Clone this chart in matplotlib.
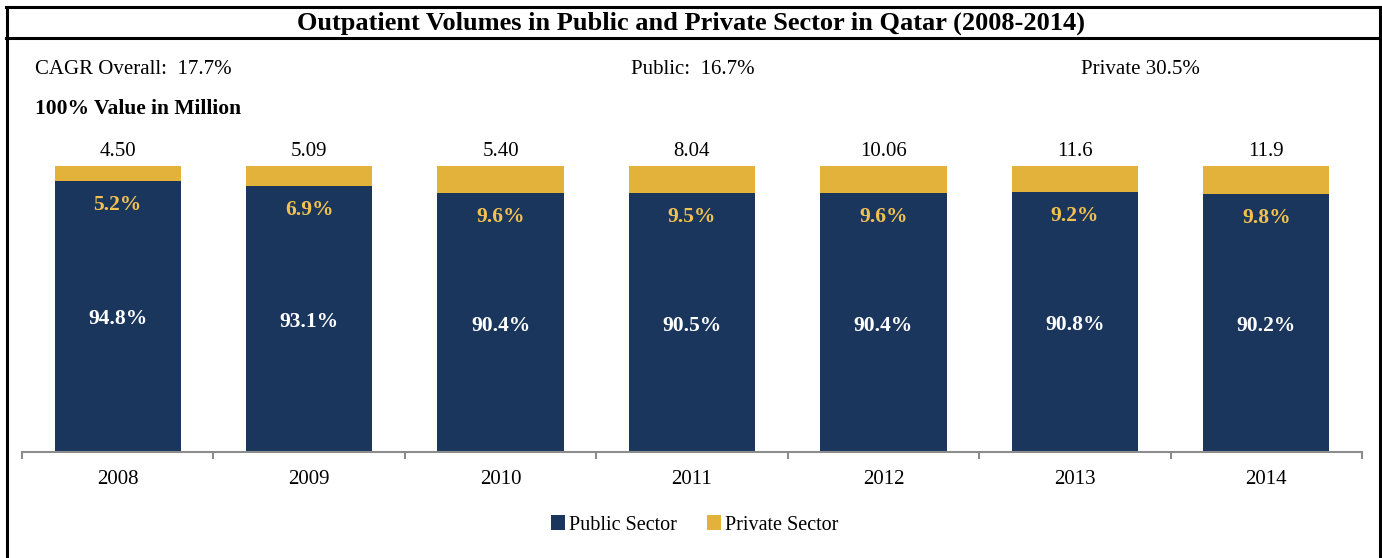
import matplotlib
matplotlib.use("Agg")
import matplotlib.pyplot as plt
from matplotlib.lines import Line2D
from matplotlib.patches import Patch
import numpy as np

years = ["2008", "2009", "2010", "2011", "2012", "2013", "2014"]
public_pct = [94.8, 93.1, 90.4, 90.5, 90.4, 90.8, 90.2]
private_pct = [5.2, 6.9, 9.6, 9.5, 9.6, 9.2, 9.8]
totals = ["4.50", "5.09", "5.40", "8.04", "10.06", "11.6", "11.9"]

title = "Outpatient Volumes in Public and Private Sector in Qatar (2008-2014)"
cagr_overall = "CAGR Overall:  17.7%"
cagr_public = "Public:  16.7%"
cagr_private = "Private 30.5%"
subtitle = "100% Value in Million"

NAVY = "#1A365D"
GOLD = "#E2B23A"
GOLD_TXT = "#F3C14F"
FONT = "Liberation Serif"

plt.rcParams["font.family"] = [FONT, "DejaVu Serif"]

W, H = 1382, 558
fig = plt.figure(figsize=(W / 100, H / 100), dpi=100)

def fx(px):
    return px / W

def fy(py):
    return 1 - py / H

ax = fig.add_axes([fx(22), fy(452), fx(1362) - fx(22), fy(166) - fy(452)])
x = np.arange(len(years))
bw = 0.66
ax.bar(x, public_pct, width=bw, color=NAVY, label="Public Sector", zorder=2)
ax.bar(x, private_pct, width=bw, bottom=public_pct, color=GOLD, label="Private Sector", zorder=2)

ax.set_xlim(-0.5, len(years) - 0.5)
ax.set_ylim(0, 100)

for i in range(len(years)):
    ax.annotate(f"{public_pct[i]:.1f}%", xy=(x[i], public_pct[i] / 2), xytext=(0, -3),
                textcoords="offset pixels", ha="center", va="center",
                color="white", fontsize=15.5, fontweight="bold")
    ax.annotate(f"{private_pct[i]:.1f}%", xy=(x[i], public_pct[i]), xytext=(0, -24),
                textcoords="offset pixels", ha="center", va="center",
                color=GOLD_TXT, fontsize=15.5, fontweight="bold")
    ax.annotate(totals[i], xy=(x[i], 100), xytext=(0, 5), textcoords="offset pixels",
                ha="center", va="bottom", color="black", fontsize=15)

for s in ["top", "right", "left"]:
    ax.spines[s].set_visible(False)
ax.spines["bottom"].set_color("#8C8C8C")
ax.spines["bottom"].set_linewidth(1.5)
ax.set_yticks([])
ax.set_xticks(x)
ax.set_xticklabels(years, fontsize=15)
ax.tick_params(axis="x", which="major", length=0, pad=13)
ax.set_xticks(np.arange(-0.5, len(years)), minor=True)
ax.tick_params(axis="x", which="minor", length=5, width=1.5, color="#8C8C8C", direction="out")

# texts
fig.text(0.5, fy(23), title, ha="center", va="center", fontsize=19, fontweight="bold")
fig.text(fx(35), fy(70), cagr_overall, ha="left", va="center", fontsize=15)
fig.text(fx(631), fy(70), cagr_public, ha="left", va="center", fontsize=15)
fig.text(fx(1081), fy(70), cagr_private, ha="left", va="center", fontsize=15)
fig.text(fx(35), fy(109), subtitle, ha="left", va="center", fontsize=15.5, fontweight="bold")

# legend
handles = [Patch(facecolor=NAVY, edgecolor="none"), Patch(facecolor=GOLD, edgecolor="none")]
fig.legend(handles, ["Public Sector", "Private Sector"], loc="center",
           bbox_to_anchor=(fx(695), fy(525)), ncol=2, frameon=False, fontsize=14.5,
           handlelength=0.7, handleheight=0.7, handletextpad=0.2, columnspacing=1.5)

# border
lw = 2.2
fig.add_artist(Line2D([fx(7), fx(7)], [0, fy(7)], color="black", lw=lw))
fig.add_artist(Line2D([fx(1380), fx(1380)], [0, fy(7)], color="black", lw=lw))
fig.add_artist(Line2D([fx(6), fx(1381)], [fy(7), fy(7)], color="black", lw=lw))
fig.add_artist(Line2D([fx(6), fx(1381)], [fy(38), fy(38)], color="black", lw=lw))

fig.savefig("out.png", dpi=100)
